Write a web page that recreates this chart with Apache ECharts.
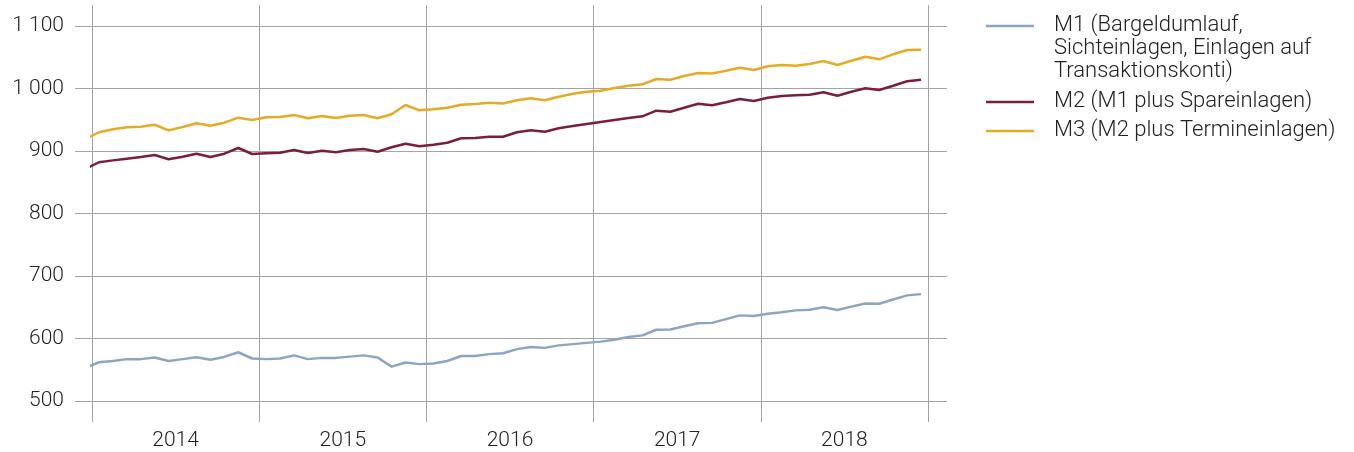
<!DOCTYPE html>
<html>
<head>
<meta charset="utf-8">
<script src="https://cdn.jsdelivr.net/npm/echarts@6/dist/echarts.min.js"></script>
<style>
  html, body { margin: 0; padding: 0; background: #fff; }
  #chart { width: 1354px; height: 452px; }
</style>
</head>
<body>
<div id="chart"></div>
<script>
// Monatswerte Dez 2013 .. Dez 2018 (Mrd.)
var years = ['2014', '2015', '2016', '2017', '2018'];
var yTicks = [500, 600, 700, 800, 900, 1000, 1100];

var m1 = [553,
  562, 564, 567, 567, 569.5, 564, 567, 570, 566, 570.5, 578, 568,
  567, 568, 573, 567, 569, 569, 571, 573, 569.5, 555, 561.5, 559,
  560, 564, 572, 572, 575, 576.5, 583, 586.5, 585, 589, 591, 593,
  595, 598, 602.5, 605, 614, 614.5, 619.5, 624.5, 625, 631, 637, 636,
  639.5, 642, 645, 646, 650, 645.5, 651, 656, 655.5, 662.5, 669, 671];
var m2 = [871,
  882, 885, 887.7, 890.4, 893.6, 886.7, 890.9, 895.7, 890.4, 895.7, 904.8, 895.2,
  896.3, 897.3, 901.5, 896.8, 900.5, 897.9, 901.6, 903.2, 898.9, 905.9, 911.7, 907.5,
  910.1, 913.3, 920.3, 920.8, 922.9, 922.9, 929.9, 933.1, 930.9, 936.3, 940, 943.2,
  946.4, 949.6, 952.8, 955.5, 964.5, 962.9, 969.3, 975.7, 973.3, 977.9, 983.2, 980,
  985.3, 988, 989.1, 990.1, 993.9, 988.5, 994.9, 1000.3, 997.6, 1004.5, 1011.5, 1014.1];
var m3 = [919,
  930, 934.7, 937.9, 938.9, 942, 933, 938.4, 944.3, 940.5, 945.3, 953.3, 949.6,
  953.9, 954.4, 957.6, 952.3, 956, 952.8, 956.5, 957.6, 952.3, 958.7, 973.6, 965.1,
  966.7, 969.3, 974.1, 975.2, 977.3, 976, 981.1, 984.3, 981.1, 986.9, 991.7, 994.9,
  996.5, 1000.8, 1004.5, 1006.7, 1015.2, 1014.1, 1020, 1024.8, 1024, 1028.5, 1033.3, 1029.6,
  1035.5, 1037.6, 1036.5, 1039.2, 1044, 1037.6, 1044.5, 1050.9, 1046.7, 1054.7, 1061.6, 1062.1];

var seriesNames = [
  'M1 (Bargeldumlauf,\nSichteinlagen, Einlagen auf\nTransaktionskonti)',
  'M2 (M1 plus Spareinlagen)',
  'M3 (M2 plus Termineinlagen)'
];
var colors = ['#8ea4c3', '#7a1f37', '#e4ab25'];

// Monat i (Dez 2013 = 0) liegt in der Monatsmitte, Achse 0..60 = Jan 2014..Dez 2018
function toPoints(arr) {
  return arr.map(function (v, i) { return [i - 0.5, v]; });
}

var font = 'Roboto, "Liberation Sans", sans-serif';
var txt = '#222';
var gridCol = '#a3a3a3';
var fs = 21;

var myChart = echarts.init(document.getElementById('chart'));

var legendGraphics = [];
var legendY = [26, 102, 131];
seriesNames.forEach(function (n, i) {
  legendGraphics.push({
    type: 'line', shape: { x1: 986, y1: legendY[i], x2: 1034, y2: legendY[i] },
    style: { stroke: colors[i], lineWidth: 2.5 }
  });
  legendGraphics.push({
    type: 'text', x: 1054, y: legendY[i] - 11.5,
    style: { text: n, font: '300 22px ' + font, fill: txt, lineHeight: 22.7, verticalAlign: 'top' }
  });
});

var option = {
  animation: false,
  grid: [
    { left: 75, right: 407, top: 26, bottom: 51 },
    { left: 92, right: 426, top: 5, bottom: 30 },
    { left: 92, right: 426, top: 26, bottom: 51 }
  ],
  xAxis: [
    { gridIndex: 0, type: 'value', show: false },
    {
      gridIndex: 1, type: 'category', data: years, boundaryGap: true,
      axisLine: { show: false }, axisTick: { show: false },
      axisLabel: { margin: 8, fontFamily: font, fontWeight: 300, fontSize: fs, color: txt },
      splitLine: { show: true, interval: 0, lineStyle: { color: gridCol, width: 1 } }
    },
    { gridIndex: 2, type: 'value', min: 0, max: 60, show: false }
  ],
  yAxis: [
    {
      gridIndex: 0, type: 'value', min: yTicks[0], max: yTicks[yTicks.length - 1], interval: 100,
      axisLine: { show: false }, axisTick: { show: false },
      axisLabel: {
        margin: 11, fontFamily: font, fontWeight: 300, fontSize: fs, color: txt,
        formatter: function (v) { return v >= 1000 ? Math.floor(v / 1000) + ' ' + String(v % 1000).padStart(3, '0') : String(v); }
      },
      splitLine: { lineStyle: { color: gridCol, width: 1 } }
    },
    { gridIndex: 1, type: 'value', show: false },
    { gridIndex: 2, type: 'value', min: 500, max: 1100, show: false }
  ],
  graphic: legendGraphics,
  series: [m1, m2, m3].map(function (arr, i) {
    return {
      name: seriesNames[i], type: 'line', xAxisIndex: 2, yAxisIndex: 2,
      data: toPoints(arr), showSymbol: false, clip: true,
      lineStyle: { color: colors[i], width: 2.5 }, itemStyle: { color: colors[i] }
    };
  })
};
myChart.setOption(option);
</script>
</body>
</html>
